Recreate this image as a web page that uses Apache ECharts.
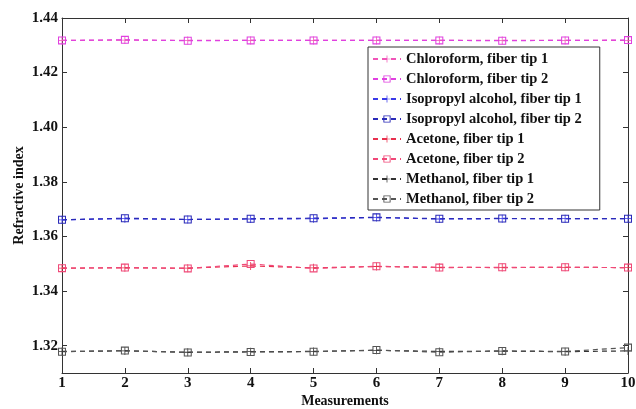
<!DOCTYPE html>
<html>
<head>
<meta charset="utf-8">
<script src="https://cdn.jsdelivr.net/npm/echarts@6/dist/echarts.min.js"></script>
<style>
  html, body { margin: 0; padding: 0; background: #fff; }
  #chart { width: 636px; height: 409px; }
</style>
</head>
<body>
<div id="chart"></div>
<script>
// Measurement index along the x axis
const measurements = [1, 2, 3, 4, 5, 6, 7, 8, 9, 10];

// Refractive index readings per liquid and fiber tip
const chloroformTip1 = [1.4318, 1.4319, 1.4318, 1.4318, 1.4318, 1.4318, 1.4318, 1.4318, 1.4318, 1.4318];
const chloroformTip2 = [1.4318, 1.4320, 1.4317, 1.4318, 1.4318, 1.4318, 1.4318, 1.4317, 1.4318, 1.4319];
const isopropylTip1 = [1.3661, 1.3665, 1.3662, 1.3664, 1.3665, 1.3669, 1.3664, 1.3665, 1.3665, 1.3665];
const isopropylTip2 = [1.3661, 1.3667, 1.3662, 1.3665, 1.3667, 1.3670, 1.3665, 1.3666, 1.3665, 1.3665];
const acetoneTip1 = [1.3484, 1.3485, 1.3484, 1.3492, 1.3485, 1.3490, 1.3487, 1.3486, 1.3487, 1.3486];
const acetoneTip2 = [1.3484, 1.3486, 1.3483, 1.3499, 1.3483, 1.3491, 1.3486, 1.3487, 1.3487, 1.3486];
const methanolTip1 = [1.3179, 1.3181, 1.3176, 1.3178, 1.3179, 1.3183, 1.3179, 1.3180, 1.3178, 1.3181];
const methanolTip2 = [1.3178, 1.3182, 1.3175, 1.3177, 1.3178, 1.3184, 1.3176, 1.3181, 1.3179, 1.3193];

// Y tick labels
const yTicks = [1.32, 1.34, 1.36, 1.38, 1.40, 1.42, 1.44];

const seriesDefs = [
  { name: 'Chloroform, fiber tip 1', data: chloroformTip1, color: '#f055b8', mark: 'plus' },
  { name: 'Chloroform, fiber tip 2', data: chloroformTip2, color: '#e040e0', mark: 'square' },
  { name: 'Isopropyl alcohol, fiber tip 1', data: isopropylTip1, color: '#3a3ae8', mark: 'plus' },
  { name: 'Isopropyl alcohol, fiber tip 2', data: isopropylTip2, color: '#2a2ab8', mark: 'square' },
  { name: 'Acetone, fiber tip 1', data: acetoneTip1, color: '#e8304e', mark: 'plus' },
  { name: 'Acetone, fiber tip 2', data: acetoneTip2, color: '#f04878', mark: 'square' },
  { name: 'Methanol, fiber tip 1', data: methanolTip1, color: '#333333', mark: 'plus' },
  { name: 'Methanol, fiber tip 2', data: methanolTip2, color: '#555555', mark: 'square' }
];

// Marker outlines: a thin plus, and a hollow square (inner hole wound the other way)
const plusPath = 'path://M4.5,0H5.5V4.5H10V5.5H5.5V10H4.5V5.5H0V4.5H4.5Z';
const squarePath = 'path://M0,0H10V10H0Z M1.3,1.3V8.7H8.7V1.3Z';

const font = '"Liberation Serif", "Times New Roman", serif';
const axisColor = '#333';
const textColor = '#111';

const boxAxis = (extra) => Object.assign({
  type: 'value',
  axisLine: { show: true, lineStyle: { color: axisColor, width: 1 } },
  axisTick: { show: true, inside: true, length: 5, lineStyle: { color: axisColor } },
  splitLine: { show: false },
  axisLabel: { show: false }
}, extra);

const option = {
  backgroundColor: '#fff',
  animation: false,
  grid: { left: 62, right: 8, top: 18, bottom: 36, outerBoundsMode: 'none', containLabel: false },
  legend: {
    orient: 'vertical',
    left: 368,
    top: 47,
    backgroundColor: '#fff',
    borderColor: '#333',
    borderWidth: 1,
    padding: [4, 18, 3, 4],
    itemGap: 4,
    itemWidth: 28,
    itemHeight: 9,
    textStyle: { fontFamily: font, fontSize: 14.5, fontWeight: 'bold', color: textColor, lineHeight: 16 },
    data: seriesDefs.map(s => s.name)
  },
  xAxis: [
    boxAxis({
      position: 'bottom',
      min: 1, max: 10, interval: 1,
      name: 'Measurements',
      nameLocation: 'middle',
      nameGap: 21,
      nameMoveOverlap: false,
      nameTextStyle: { fontFamily: font, fontSize: 14, fontWeight: 'bold', color: textColor },
      axisLabel: { show: true, fontFamily: font, fontSize: 15, fontWeight: 'bold', color: textColor, margin: 3 }
    }),
    boxAxis({ position: 'top', min: 1, max: 10, interval: 1 })
  ],
  yAxis: [
    boxAxis({
      position: 'left',
      min: 1.31, max: 1.44,
      name: 'Refractive index',
      nameLocation: 'middle',
      nameGap: 36,
      nameMoveOverlap: false,
      nameTextStyle: { fontFamily: font, fontSize: 14, fontWeight: 'bold', color: textColor },
      axisTick: { show: true, inside: true, length: 5, lineStyle: { color: axisColor }, customValues: yTicks },
      axisLabel: {
        show: true, fontFamily: font, fontSize: 15, fontWeight: 'bold', color: textColor, margin: 4,
        customValues: yTicks,
        formatter: v => v.toFixed(2)
      }
    }),
    boxAxis({
      position: 'right',
      min: 1.31, max: 1.44,
      axisTick: { show: true, inside: true, length: 5, lineStyle: { color: axisColor }, customValues: yTicks }
    })
  ],
  series: seriesDefs.map(s => ({
    name: s.name,
    type: 'line',
    xAxisIndex: 0,
    yAxisIndex: 0,
    data: measurements.map((m, i) => [m, s.data[i]]),
    symbol: s.mark === 'plus' ? plusPath : squarePath,
    symbolSize: 8,
    showSymbol: true,
    clip: false,
    itemStyle: { color: s.color, borderWidth: 0 },
    lineStyle: { color: s.color, width: 1.2, type: [5, 4] },
    z: 3
  }))
};

const chart = echarts.init(document.getElementById('chart'), null, { renderer: 'canvas' });
chart.setOption(option);
</script>
</body>
</html>
